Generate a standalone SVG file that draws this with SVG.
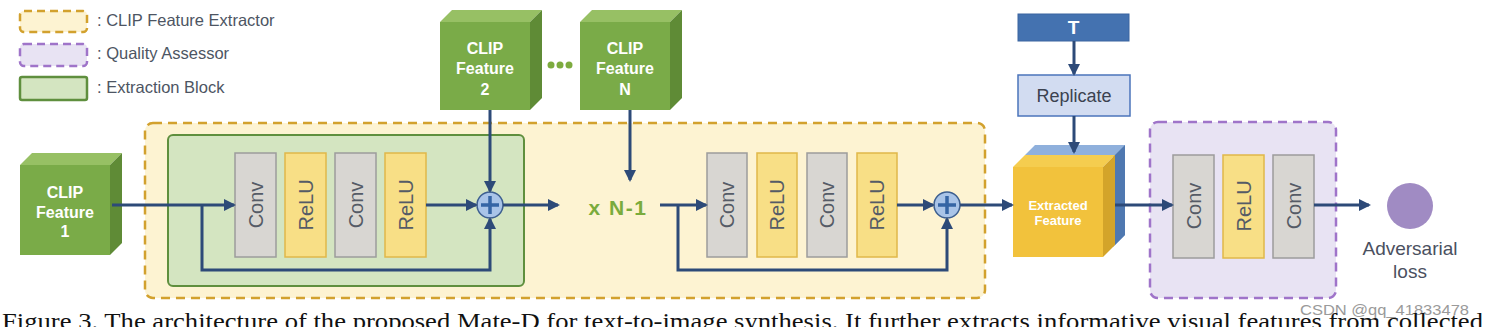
<svg xmlns="http://www.w3.org/2000/svg" width="1485" height="327" viewBox="0 0 1485 327">
<style>
.sans{font-family:"Liberation Sans",Arial,sans-serif}
.leg{font-size:16.5px;fill:#4d5563}
.cubeT{font-size:16px;font-weight:bold;fill:#ffffff;text-anchor:middle}
.blk{font-size:20px;fill:#555b66;text-anchor:middle;dominant-baseline:central}
.conv{fill:#d8d6d2;stroke:#9c9c9c;stroke-width:1.5}
.relu{fill:#f8df86;stroke:#e0b84a;stroke-width:1.5}
.gf{fill:#7aab48}.gt{fill:#97c064}.gr{fill:#5f8b36}
.ln{fill:none;stroke:#2d4a78;stroke-width:3;marker-end:url(#ah)}
.plus{fill:#a9c4e8;stroke:#3d5f90;stroke-width:1.5}
.pl{stroke:#3565a5;stroke-width:3.5;stroke-linecap:butt}
</style>
<defs>
<marker id="ah" viewBox="0 0 12 12" refX="10" refY="6" markerWidth="12" markerHeight="12" markerUnits="userSpaceOnUse" orient="auto">
<path d="M0,0 L12,6 L0,12 z" fill="#2d4a78"/>
</marker>
</defs>
<rect width="1485" height="327" fill="#ffffff"/>

<g id="legend">
<rect x="20" y="11" width="67" height="21" rx="4" fill="#fdf3d2" stroke="#d2a12e" stroke-width="2.5" stroke-dasharray="8 5"/>
<text class="sans leg" x="97" y="26">: CLIP Feature Extractor</text>
<rect x="20" y="44" width="67" height="22" rx="4" fill="#e8e3f3" stroke="#9f74c9" stroke-width="2.5" stroke-dasharray="8 5"/>
<text class="sans leg" x="97" y="59">: Quality Assessor</text>
<rect x="20" y="77" width="67" height="23" rx="2" fill="#d4e5c1" stroke="#5f8f3e" stroke-width="2.5"/>
<text class="sans leg" x="97" y="93">: Extraction Block</text>
</g>

<g id="extractor">
<rect x="145" y="123" width="840" height="175" rx="8" fill="#fdf3d2" stroke="#d2a12e" stroke-width="2.5" stroke-dasharray="9 6"/>
</g>
<g id="extraction-block">
<rect x="168" y="135" width="356" height="151" rx="5" fill="#d4e5c1" stroke="#5f8f3e" stroke-width="2"/>
</g>
<g id="quality-assessor">
<rect x="1150" y="122" width="186" height="176" rx="8" fill="#e8e3f3" stroke="#9f74c9" stroke-width="2.5" stroke-dasharray="9 6"/>
</g>

<g id="clip1">
<polygon class="gt" points="20,165 32,153 122,153 110,165"/>
<polygon class="gr" points="110,165 122,153 122,243 110,255"/>
<rect class="gf" x="20" y="165" width="90" height="90"/>
<text class="sans cubeT" x="65" y="198">CLIP</text>
<text class="sans cubeT" x="65" y="218">Feature</text>
<text class="sans cubeT" x="65" y="237">1</text>
</g>
<g id="clip2">
<polygon class="gt" points="440,22 452,10 542,10 530,22"/>
<polygon class="gr" points="530,22 542,10 542,98 530,110"/>
<rect class="gf" x="440" y="22" width="90" height="88"/>
<text class="sans cubeT" x="485" y="54">CLIP</text>
<text class="sans cubeT" x="485" y="74">Feature</text>
<text class="sans cubeT" x="485" y="95">2</text>
</g>
<g id="dots">
<circle cx="551" cy="65" r="3.5" fill="#7dab3f"/>
<circle cx="560" cy="65" r="3.5" fill="#7dab3f"/>
<circle cx="569" cy="65" r="3.5" fill="#7dab3f"/>
</g>
<g id="clipN">
<polygon class="gt" points="580,22 592,10 682,10 670,22"/>
<polygon class="gr" points="670,22 682,10 682,98 670,110"/>
<rect class="gf" x="580" y="22" width="90" height="88"/>
<text class="sans cubeT" x="625" y="54">CLIP</text>
<text class="sans cubeT" x="625" y="74">Feature</text>
<text class="sans cubeT" x="625" y="95">N</text>
</g>

<g id="block1">
<rect class="conv" x="235" y="153" width="41" height="104"/>
<text class="sans blk" transform="translate(255.5,205) rotate(-90)">Conv</text>
<rect class="relu" x="285" y="153" width="41" height="104"/>
<text class="sans blk" transform="translate(305.5,205) rotate(-90)">ReLU</text>
<rect class="conv" x="335" y="153" width="41" height="104"/>
<text class="sans blk" transform="translate(355.5,205) rotate(-90)">Conv</text>
<rect class="relu" x="385" y="153" width="41" height="104"/>
<text class="sans blk" transform="translate(405.5,205) rotate(-90)">ReLU</text>
</g>
<g id="plus1">
<circle class="plus" cx="490" cy="205" r="13"/>
<line class="pl" x1="481" y1="205" x2="499" y2="205"/>
<line class="pl" x1="490" y1="196" x2="490" y2="214"/>
</g>
<g id="repeat">
<text class="sans" x="618" y="215" font-size="21" font-weight="bold" fill="#7aab3c" text-anchor="middle" letter-spacing="1.5">x N-1</text>
</g>
<g id="block2">
<rect class="conv" x="707" y="153" width="40" height="104"/>
<text class="sans blk" transform="translate(727,205) rotate(-90)">Conv</text>
<rect class="relu" x="757" y="153" width="40" height="104"/>
<text class="sans blk" transform="translate(777,205) rotate(-90)">ReLU</text>
<rect class="conv" x="807" y="153" width="40" height="104"/>
<text class="sans blk" transform="translate(827,205) rotate(-90)">Conv</text>
<rect class="relu" x="857" y="153" width="40" height="104"/>
<text class="sans blk" transform="translate(877,205) rotate(-90)">ReLU</text>
</g>
<g id="plus2">
<circle class="plus" cx="947" cy="205" r="13"/>
<line class="pl" x1="938" y1="205" x2="956" y2="205"/>
<line class="pl" x1="947" y1="196" x2="947" y2="214"/>
</g>

<g id="T">
<rect x="1018" y="14" width="111" height="27" fill="#4472b0" stroke="#3a64a0" stroke-width="1"/>
<text class="sans" x="1073.5" y="34" font-size="19" font-weight="bold" fill="#ffffff" text-anchor="middle">T</text>
</g>
<g id="replicate">
<rect x="1018" y="75" width="112" height="41" fill="#d2dcf1" stroke="#4b74bb" stroke-width="1.5"/>
<text class="sans" x="1074" y="102" font-size="18" fill="#3b4250" text-anchor="middle">Replicate</text>
</g>
<g id="extracted-feature">
<path d="M1025,155 L1035,145 L1125,145 L1125,235 L1113,247 L1113,155 Z" fill="#8fb0dc"/>
<path d="M1115,155 L1125,145 L1125,235 L1115,245 Z" fill="#4f78b0"/>
<polygon points="1013,167 1025,155 1115,155 1103,167" fill="#f5cd4f"/>
<polygon points="1103,167 1115,155 1115,245 1103,257" fill="#d3a42a"/>
<rect x="1013" y="167" width="90" height="90" fill="#f2c23c"/>
<text class="sans" x="1058" y="210" font-size="13" font-weight="bold" fill="#ffffff" text-anchor="middle">Extracted</text>
<text class="sans" x="1058" y="225" font-size="13" font-weight="bold" fill="#ffffff" text-anchor="middle">Feature</text>
</g>
<g id="block3">
<rect class="conv" x="1173" y="155" width="41" height="103"/>
<text class="sans blk" transform="translate(1193.5,206) rotate(-90)">Conv</text>
<rect class="relu" x="1223" y="155" width="41" height="103"/>
<text class="sans blk" transform="translate(1243.5,206) rotate(-90)">ReLU</text>
<rect class="conv" x="1273" y="155" width="41" height="103"/>
<text class="sans blk" transform="translate(1293.5,206) rotate(-90)">Conv</text>
</g>
<g id="adversarial-loss">
<circle cx="1410" cy="206" r="23" fill="#a08bc3"/>
<text class="sans" x="1410" y="255" font-size="19" fill="#4a5060" text-anchor="middle">Adversarial</text>
<text class="sans" x="1410" y="278" font-size="19" fill="#4a5060" text-anchor="middle">loss</text>
</g>

<g id="connectors">
<path class="ln" d="M112,205 H234"/>
<path class="ln" d="M202,205 V270 H490 V219"/>
<path class="ln" d="M426,205 H476"/>
<path class="ln" d="M503,205 H558"/>
<path class="ln" d="M490,110 V191"/>
<path class="ln" d="M630,110 V180"/>
<path class="ln" d="M660,205 H706"/>
<path class="ln" d="M678,205 V270 H947 V219"/>
<path class="ln" d="M897,205 H933"/>
<path class="ln" d="M960,205 H1012"/>
<path class="ln" d="M1074,41 V74"/>
<path class="ln" d="M1074,116 V152"/>
<path class="ln" d="M1115,205 H1172"/>
<path class="ln" d="M1314,205 H1369"/>
</g>

<text class="sans" x="1300" y="315" font-size="15.5" fill="#9a9a9a" textLength="169" lengthAdjust="spacingAndGlyphs">CSDN @qq_41833478</text>
<text x="2" y="329" font-family="'Liberation Serif','Times New Roman',serif" font-size="23" fill="#111111" textLength="1481" lengthAdjust="spacingAndGlyphs">Figure 3. The architecture of the proposed Mate-D for text-to-image synthesis. It further extracts informative visual features from collected</text>
</svg>
